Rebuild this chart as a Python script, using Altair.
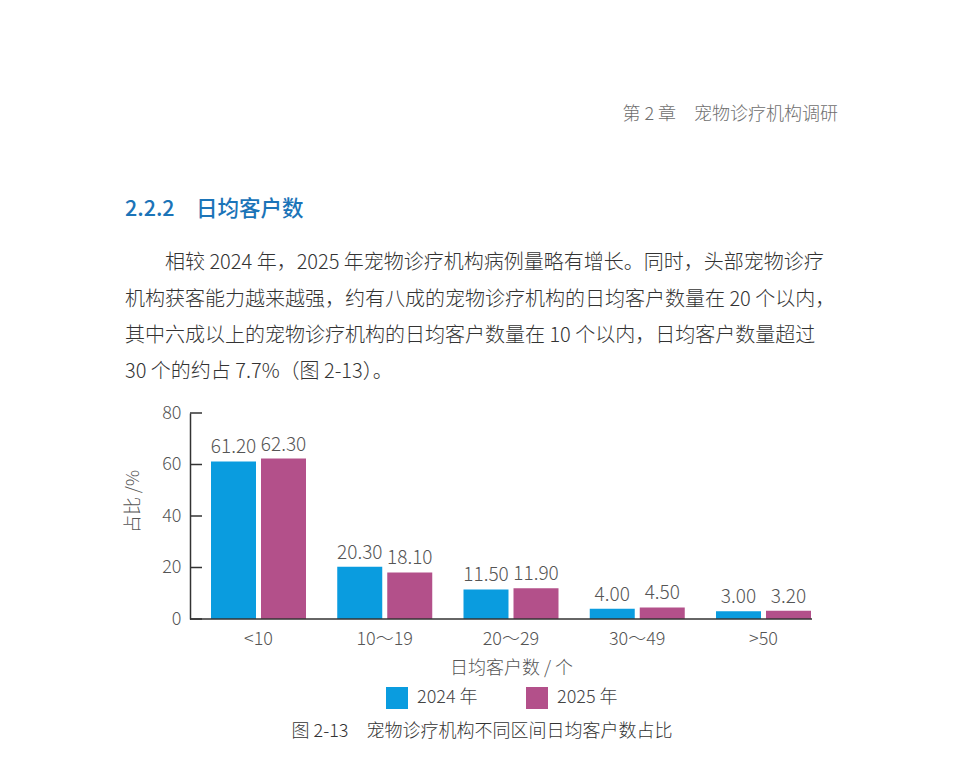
import altair as alt
import pandas as pd

FONT = "Noto Sans CJK SC"

categories = ["<10", "10～19", "20～29", "30～49", ">50"]
series = ["2024 年", "2025 年"]
values_2024 = [61.20, 20.30, 11.50, 4.00, 3.00]
values_2025 = [62.30, 18.10, 11.90, 4.50, 3.20]
y_ticks = [0, 20, 40, 60, 80]
colors = ["#0A9CDF", "#B3508A"]

header = "第 2 章　宠物诊疗机构调研"
heading = "2.2.2　日均客户数"
paragraph = [
    "相较 2024 年，2025 年宠物诊疗机构病例量略有增长。同时，头部宠物诊疗",
    "机构获客能力越来越强，约有八成的宠物诊疗机构的日均客户数量在 20 个以内，",
    "其中六成以上的宠物诊疗机构的日均客户数量在 10 个以内，日均客户数量超过",
    "30 个的约占 7.7%（图 2-13）。",
]
caption = "图 2-13　宠物诊疗机构不同区间日均客户数占比"
x_title = "日均客户数 / 个"
y_title = "占比 /%"

rows = []
for c, a, b in zip(categories, values_2024, values_2025):
    rows.append({"cat": c, "year": series[0], "v": a})
    rows.append({"cat": c, "year": series[1], "v": b})
df = pd.DataFrame(rows)

W, H = 622, 206
LW = 300
yscale = alt.Scale(domain=[0, 80])
xenc = alt.X(
    "cat:N",
    sort=categories,
    scale=alt.Scale(range=[21, 621], paddingInner=0.2475, paddingOuter=0),
    axis=alt.Axis(
        title=x_title, domain=False, ticks=False, tickSize=0, labelPadding=11,
        labelAngle=0, labelFontSize=18, labelColor="#555555", labelFont=FONT,
        labelFontWeight=LW,
        titleFont=FONT, titleFontSize=18, titleColor="#555555", titleFontWeight=LW,
        titlePadding=11,
    ),
)
xoff = alt.XOffset("year:N", sort=series, scale=alt.Scale(paddingInner=0.1, paddingOuter=0))

bars = alt.Chart(df).mark_bar().encode(
    x=xenc,
    xOffset=xoff,
    y=alt.Y(
        "v:Q",
        scale=yscale,
        axis=alt.Axis(
            title=y_title, values=y_ticks, grid=False, ticks=False, tickSize=0,
            labelPadding=9, labelFontSize=18, labelColor="#555555", labelFont=FONT,
            labelFontWeight=LW,
            domainColor="#333333", domainWidth=1.5,
            titleFont=FONT, titleFontSize=18, titleColor="#555555",
            titleFontWeight=LW, titlePadding=19, titleY=88,
        ),
    ),
    color=alt.Color(
        "year:N",
        sort=series,
        scale=alt.Scale(domain=series, range=colors),
        legend=alt.Legend(
            title=None, orient="none", direction="horizontal",
            legendX=196, legendY=274, symbolType="square", symbolSize=484,
            symbolStrokeWidth=0, labelFontSize=18, labelFont=FONT,
            labelFontWeight=LW,
            labelColor="#444444", labelOffset=9, columnPadding=48,
        ),
    ),
)

labels = alt.Chart(df).mark_text(
    baseline="alphabetic", dy=-8, fontSize=19, font=FONT, color="#555555",
    fontWeight=LW,
).encode(
    x=alt.X("cat:N", sort=categories),
    xOffset=alt.XOffset("year:N", sort=series),
    y=alt.Y("v:Q", scale=yscale),
    text=alt.Text("v:Q", format=".2f"),
)

tick_df = pd.DataFrame({"t": y_ticks})
ticks = alt.Chart(tick_df).mark_rule(color="#333333", strokeWidth=1.5).encode(
    y=alt.Y("t:Q", scale=yscale), x=alt.value(0), x2=alt.value(12)
)
base_df = pd.DataFrame({"t": [0]})
xline = alt.Chart(base_df).mark_rule(color="#333333", strokeWidth=1.5).encode(
    y=alt.Y("t:Q", scale=yscale), x=alt.value(0), x2=alt.value(W)
)


def text_layer(s, x, y, align="left", size=20, color="#333333", weight=LW):
    return alt.Chart(pd.DataFrame({"s": [s]})).mark_text(
        align=align, baseline="middle", fontSize=size, font=FONT,
        color=color, fontWeight=weight,
    ).encode(x=alt.value(x), y=alt.value(y), text="s:N")


texts = [
    text_layer(header, 648, -298, align="right", size=18, color="#6e6e6e"),
    text_layer(heading, -65, -203, size=21.5, color="#1B74B8", weight=500),
    text_layer(paragraph[0], -25, -150),
    text_layer(paragraph[1], -65, -113),
    text_layer(paragraph[2], -65, -77),
    text_layer(paragraph[3], -65, -41),
    text_layer(caption, 292, 319, align="center", size=18, color="#333333"),
]

chart = alt.layer(bars, labels, ticks, xline, *texts).properties(
    width=W,
    height=H,
    autosize=alt.AutoSizeParams(type="none"),
    padding={"left": 190, "top": 413, "right": 150, "bottom": 141},
    background="white",
).configure_view(stroke=None)

chart.save("out.html", embed_options={"renderer": "svg", "actions": False})
